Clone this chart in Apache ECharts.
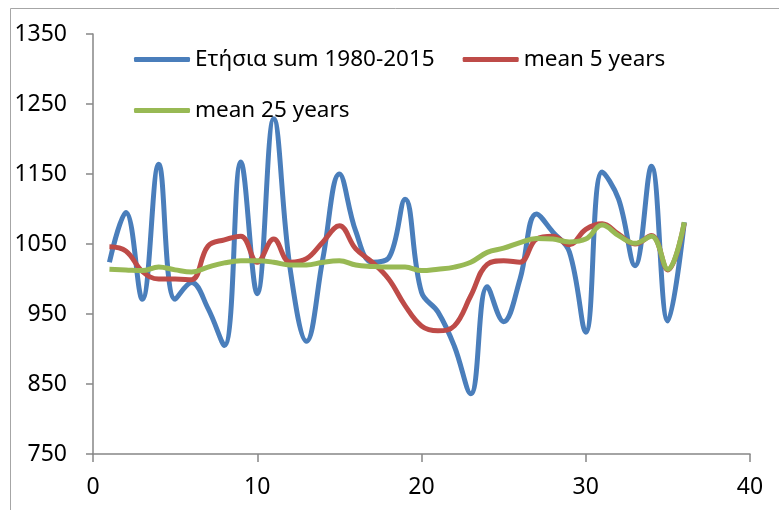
<!DOCTYPE html>
<html>
<head>
<meta charset="utf-8">
<script src="https://cdn.jsdelivr.net/npm/echarts@6/dist/echarts.min.js"></script>
<style>
  html, body { margin: 0; padding: 0; background: #fff; }
  #chart { width: 779px; height: 510px; }
</style>
</head>
<body>
<div id="chart"></div>
<script>
// years 1..36 (1980-2015)
var years = [];
for (var i = 1; i <= 36; i++) years.push(i);

var annual = [1024, 1095, 971, 1164, 971, 995, 958, 905, 1167, 979, 1229, 1015,
              911, 1030, 1150, 1068, 1024, 1030, 1114, 981, 953, 904, 836, 989,
              939, 1000, 1093, 1067, 1039, 924, 1153, 1114, 1019, 1161, 940, 1081];
var mean5 = [1046, 1040, 1011, 1000, 1000, 999, 1047, 1056, 1061, 1024, 1057, 1024,
             1029, 1053, 1076, 1043, 1024, 1000, 962, 933, 926, 933, 976, 1021,
             1026, 1024, 1057, 1061, 1049, 1071, 1079, 1064, 1050, 1062, 1013, 1080];
var mean25 = [1014, 1013, 1012, 1017, 1013, 1010, 1017, 1023, 1026, 1026, 1024, 1020,
              1020, 1024, 1026, 1020, 1018, 1017, 1017, 1012, 1014, 1017, 1024, 1038,
              1044, 1052, 1058, 1057, 1053, 1057, 1077, 1062, 1051, 1061, 1014, 1081];

var xTicks = [0, 40, 10];     // min, max, interval
var yTicks = [750, 1350, 100];

function pairs(vals) {
    return years.map(function (x, i) { return [x, vals[i]]; });
}

var chart = echarts.init(document.getElementById('chart'));
var axisColor = '#868686';
var font = 'Noto Sans';

var option = {
    animation: false,
    backgroundColor: '#fff',
    grid: { left: 93, right: 29, top: 34, bottom: 56 },
    graphic: [{
        type: 'rect',
        shape: { x: 10.5, y: 8.5, width: 800, height: 600 },
        style: { fill: 'none', stroke: '#a6a6a6', lineWidth: 1 },
        silent: true
    }],
    legend: [{
        left: 129, top: 43,
        itemWidth: 56, itemHeight: 5, itemGap: 28,
        icon: 'roundRect',
        textStyle: { fontFamily: font, fontSize: 22.5, color: '#000' },
        data: ['Ετήσια sum 1980-2015', 'mean 5 years']
    }, {
        left: 129, top: 94,
        itemWidth: 56, itemHeight: 5,
        icon: 'roundRect',
        textStyle: { fontFamily: font, fontSize: 22.5, color: '#000' },
        data: ['mean 25 years']
    }],
    xAxis: {
        type: 'value',
        min: xTicks[0], max: xTicks[1], interval: xTicks[2],
        axisLine: { lineStyle: { color: axisColor, width: 1.5 } },
        axisTick: { show: true, inside: false, length: 8, lineStyle: { color: axisColor, width: 1.5 } },
        splitLine: { show: false },
        axisLabel: { fontFamily: font, fontSize: 23, color: '#000', margin: 22 }
    },
    yAxis: {
        type: 'value',
        min: yTicks[0], max: yTicks[1], interval: yTicks[2],
        axisLine: { show: true, lineStyle: { color: axisColor, width: 1.5 } },
        axisTick: { show: true, inside: false, length: 7, lineStyle: { color: axisColor, width: 1.5 } },
        splitLine: { show: false },
        axisLabel: {
            fontFamily: font, fontSize: 23, color: '#000', margin: 26,
            formatter: function (v) { return String(v); }
        }
    },
    series: [{
        name: 'Ετήσια sum 1980-2015',
        type: 'line', smooth: 0.4, symbol: 'none',
        itemStyle: { color: '#4a7ebb' },
        lineStyle: { width: 5, color: '#4a7ebb' },
        data: pairs(annual)
    }, {
        name: 'mean 5 years',
        type: 'line', smooth: 0.4, symbol: 'none',
        itemStyle: { color: '#be4b48' },
        lineStyle: { width: 5, color: '#be4b48' },
        data: pairs(mean5)
    }, {
        name: 'mean 25 years',
        type: 'line', smooth: 0.4, symbol: 'none',
        itemStyle: { color: '#98b954' },
        lineStyle: { width: 5, color: '#98b954' },
        data: pairs(mean25)
    }]
};

chart.setOption(option);
</script>
</body>
</html>
